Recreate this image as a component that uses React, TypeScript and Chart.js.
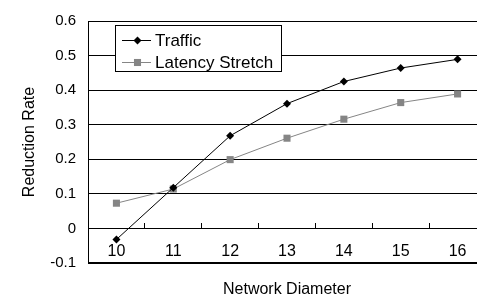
import React, { useEffect, useRef } from "react";
import { Chart, registerables } from "chart.js";

Chart.register(...registerables);

const categories = ["10", "11", "12", "13", "14", "15", "16"];
const trafficValues = [-0.032, 0.118, 0.268, 0.361, 0.425, 0.464, 0.489];
const latencyValues = [0.073, 0.114, 0.199, 0.261, 0.316, 0.364, 0.389];
const yTickLabels = ["-0.1", "0", "0.1", "0.2", "0.3", "0.4", "0.5", "0.6"];
const seriesNames = ["Traffic", "Latency Stretch"];
const xTitle = "Network Diameter";
const yTitle = "Reduction Rate";

const FONT = "'Liberation Sans', Arial, Helvetica, sans-serif";
const GRAY = "#858585";

const boxLegend = {
  id: "boxLegend",
  afterDatasetsDraw(chart: any) {
    const ctx = chart.ctx;
    const x0 = 115.5, y0 = 25.5, w = 166, h = 46;
    ctx.save();
    ctx.fillStyle = "#fff";
    ctx.fillRect(x0, y0, w, h);
    ctx.strokeStyle = "#000";
    ctx.lineWidth = 1;
    ctx.strokeRect(x0, y0, w, h);
    const rows = [40.5, 62.5];
    chart.data.datasets.forEach((ds: any, i: number) => {
      const y = rows[i];
      ctx.strokeStyle = ds.borderColor;
      ctx.lineWidth = 1;
      ctx.beginPath();
      ctx.moveTo(122, y);
      ctx.lineTo(151, y);
      ctx.stroke();
      ctx.fillStyle = ds.pointBackgroundColor;
      const cx = 137.5;
      if (ds.pointStyle === "rectRot") {
        const r = ds.pointRadius;
        ctx.beginPath();
        ctx.moveTo(cx, y - r);
        ctx.lineTo(cx + r, y);
        ctx.lineTo(cx, y + r);
        ctx.lineTo(cx - r, y);
        ctx.closePath();
        ctx.fill();
      } else {
        const s = ds.pointRadius * Math.SQRT1_2;
        ctx.fillRect(cx - s, y - s, 2 * s, 2 * s);
      }
      ctx.fillStyle = "#000";
      ctx.font = `17px ${FONT}`;
      ctx.textBaseline = "middle";
      ctx.textAlign = "left";
      ctx.fillText(ds.label, 155, y + 1);
    });
    ctx.restore();
  },
};

export default function App() {
  const ref = useRef<HTMLCanvasElement | null>(null);

  useEffect(() => {
    if (!ref.current) return;
    const chart = new Chart(ref.current, {
      type: "line",
      data: {
        labels: categories,
        datasets: [
          {
            label: seriesNames[0],
            data: trafficValues,
            borderColor: "#000",
            backgroundColor: "#000",
            borderWidth: 1,
            pointStyle: "rectRot",
            pointRadius: 4,
            pointBorderWidth: 0,
            pointBackgroundColor: "#000",
            pointBorderColor: "#000",
            tension: 0,
          },
          {
            label: seriesNames[1],
            data: latencyValues,
            borderColor: GRAY,
            backgroundColor: GRAY,
            borderWidth: 1,
            pointStyle: "rect",
            pointRadius: 5,
            pointBorderWidth: 0,
            pointBackgroundColor: GRAY,
            pointBorderColor: GRAY,
            tension: 0,
          },
        ],
      },
      options: {
        responsive: false,
        animation: false,
        devicePixelRatio: 1,
        layout: { padding: { top: 11, right: 0, bottom: 0, left: 0 } },
        plugins: {
          legend: { display: false },
          tooltip: { enabled: false },
        },
        scales: {
          x: {
            type: "category",
            offset: true,
            position: { y: 0 } as any,
            grid: {
              offset: true,
              drawOnChartArea: false,
              drawTicks: true,
              tickLength: -6,
              color: "#000",
            },
            border: { display: true, color: "#000", width: 1 },
            ticks: {
              padding: 20,
              color: "#000",
              font: { size: 16, family: FONT },
              maxRotation: 0,
              autoSkip: false,
            },
          },
          x2: {
            type: "linear",
            axis: "x",
            position: "bottom",
            min: 0,
            max: 1,
            grid: { display: false, drawTicks: false },
            border: { display: false },
            ticks: { display: false },
            title: {
              display: true,
              text: xTitle,
              color: "#000",
              font: { size: 16, family: FONT },
              padding: { top: 0, bottom: 2 },
            },
            afterFit: (s: any) => {
              s.height = 38;
            },
          } as any,
          y: {
            min: -0.1,
            max: 0.6,
            ticks: {
              stepSize: 0.1,
              padding: 12,
              color: "#000",
              font: { size: 15, family: FONT },
              callback: (_v: any, i: number) => yTickLabels[i],
            },
            grid: {
              color: "#000",
              lineWidth: (c: any) => (c.tick && c.tick.value < -0.05 ? 2 : 1),
              drawTicks: false,
            },
            border: { display: true, color: "#000", width: 1 },
            title: {
              display: true,
              text: yTitle,
              color: "#000",
              font: { size: 16, family: FONT },
              padding: { top: 20, bottom: 0 },
            },
            afterFit: (s: any) => {
              s.width = 88;
            },
          },
        },
      },
      plugins: [boxLegend],
    });
    return () => chart.destroy();
  }, []);

  return (
    <div
      style={{
        position: "fixed",
        left: 0,
        top: 0,
        width: 477,
        height: 301,
        overflow: "hidden",
        background: "#fff",
      }}
    >
      <canvas ref={ref} width={491} height={301} style={{ display: "block" }} />
    </div>
  );
}
